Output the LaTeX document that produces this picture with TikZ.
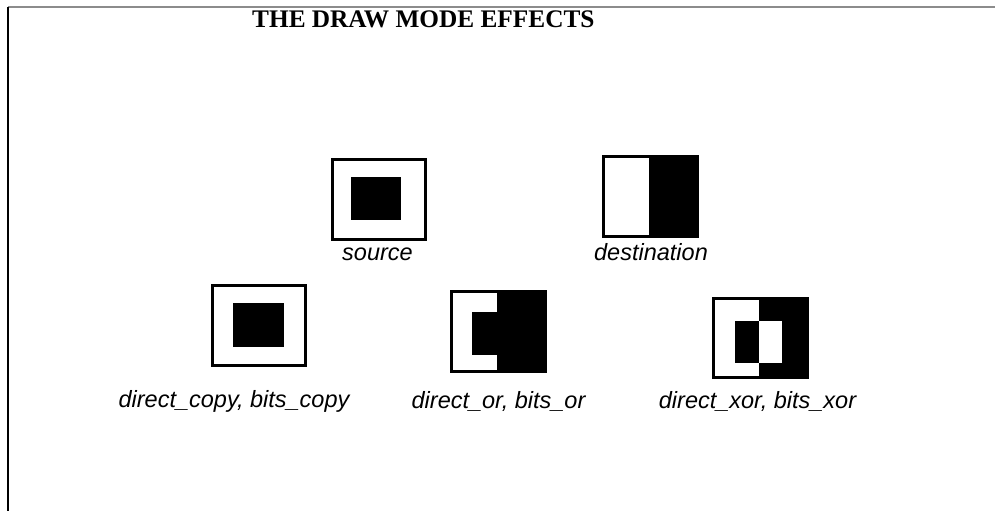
\documentclass[tikz,border=0pt]{standalone}
\usepackage{fontspec}
\setmainfont{Liberation Serif}
\newfontfamily\labelfont{Liberation Sans}
\begin{document}
\begin{tikzpicture}[x=1pt,y=-1pt,
  pane/.style={draw=black,line width=3pt,fill=none,inner sep=0pt,outer sep=0pt},
  caption/.style={font=\labelfont\itshape\fontsize{23.5}{26}\selectfont,inner sep=0pt,anchor=base},
  heading/.style={font=\bfseries\fontsize{25.3}{28}\selectfont,inner sep=0pt,anchor=base west}]
\useasboundingbox (0,0) rectangle (995,511);
% page edges
\draw[line width=2pt,black!45] (8,7) -- (995,7);
\draw[line width=2pt,black] (8,7) -- (8,511);
% title
\node[heading] (title) at (252,28) {THE DRAW MODE EFFECTS};

% source: black square inside a white frame
\fill[black] (351,177) rectangle (401,220);
\draw[pane] (332.5,159.5) rectangle (425.5,239.5);
\node[caption] (srclab) at (377.5,260) {source};

% destination: left half white, right half black
\fill[black] (649,155) rectangle (699,238);
\draw[pane] (603.5,156.5) rectangle (697.5,236.5);
\node[caption] (dstlab) at (651,260) {destination};

% copy result
\fill[black] (233,303) rectangle (284,347);
\draw[pane] (212.5,285.5) rectangle (305.5,365.5);
\node[caption] (copylab) at (234,407) {direct\_copy, bits\_copy};

% or result
\fill[black] (497,290) rectangle (547,373);
\fill[black] (472,312) rectangle (497,355);
\draw[pane] (451.5,291.5) rectangle (545.5,371.5);
\node[caption] (orlab) at (498.5,408) {direct\_or, bits\_or};

% xor result
\fill[black] (759,297) rectangle (809,379);
\fill[black] (735,321) rectangle (759,363);
\fill[white] (759,321) rectangle (782,363);
\draw[pane] (713.5,298.5) rectangle (807.5,377.5);
\node[caption] (xorlab) at (757.5,408) {direct\_xor, bits\_xor};
\end{tikzpicture}
\end{document}
